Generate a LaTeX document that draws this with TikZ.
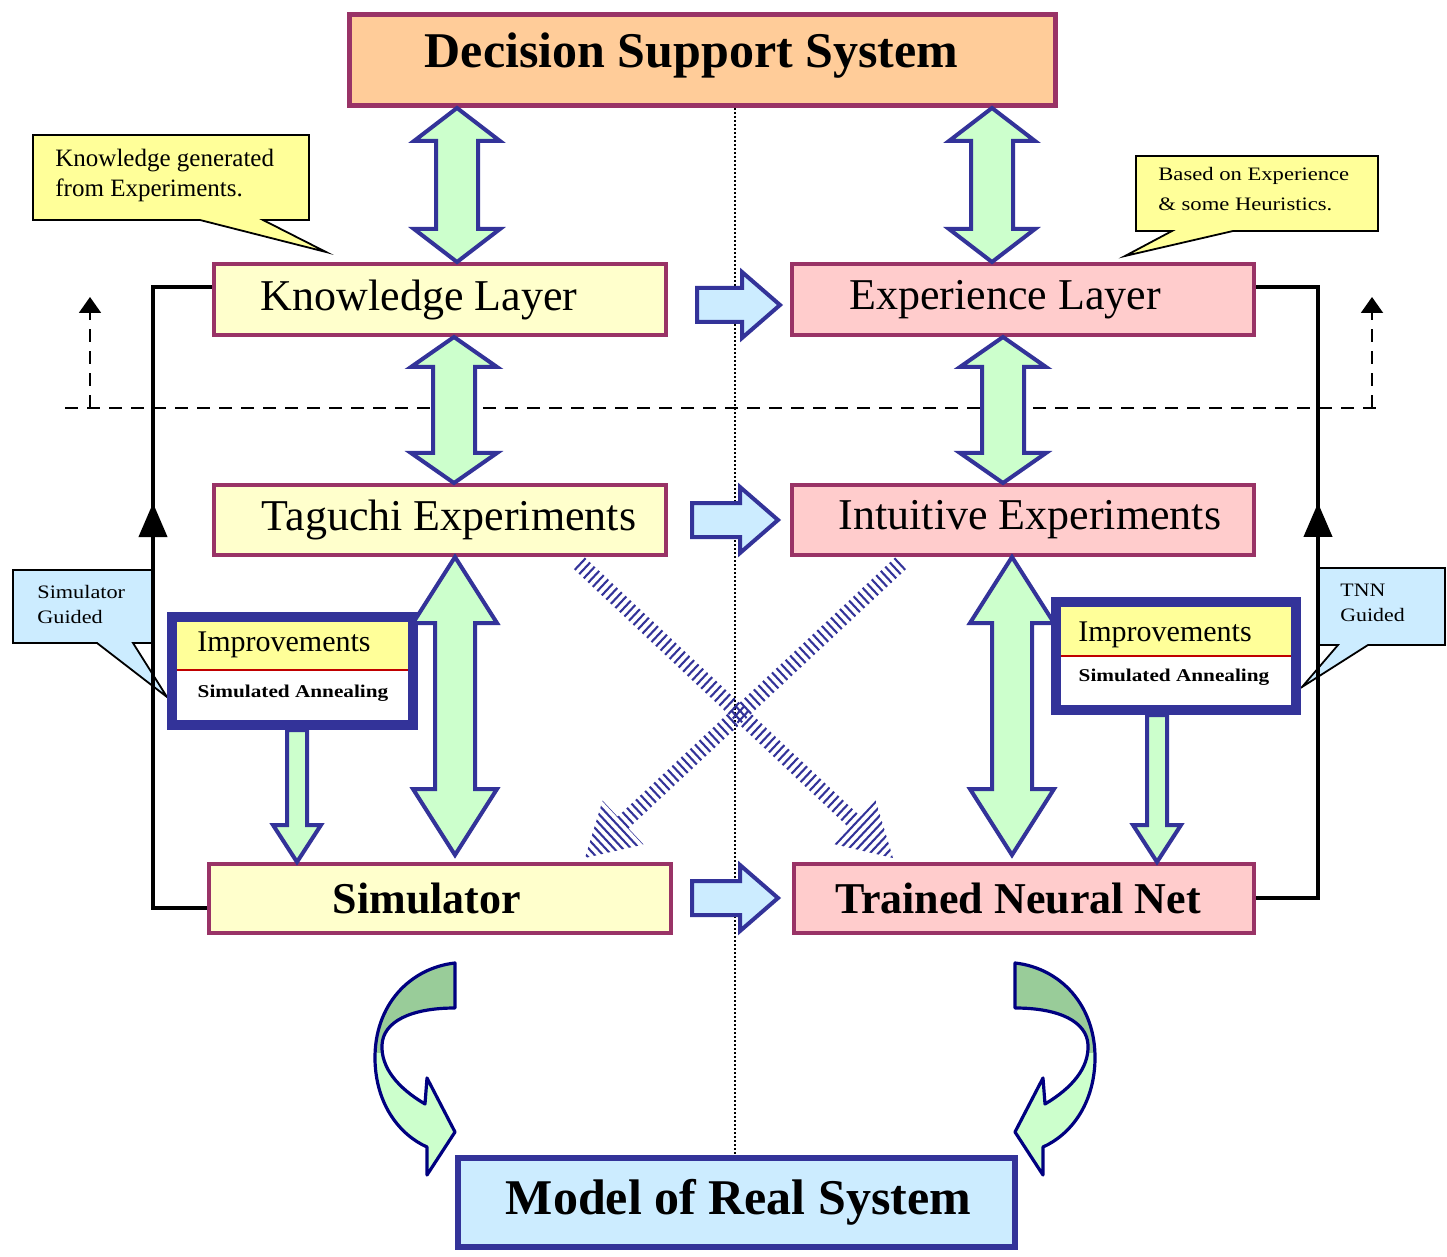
\documentclass[tikz,border=0pt]{standalone}
\usepackage{fontspec}
\setmainfont{Liberation Serif}
\usetikzlibrary{arrows.meta,calc,decorations.markings}

\definecolor{maroon}{HTML}{993366}
\definecolor{peach}{HTML}{FFCC99}
\definecolor{paleyellow}{HTML}{FFFFCC}
\definecolor{palepink}{HTML}{FFCCCC}
\definecolor{noteyellow}{HTML}{FFFF99}
\definecolor{paleblue}{HTML}{CCECFF}
\definecolor{indigo}{HTML}{333399}
\definecolor{mint}{HTML}{CCFFCC}
\definecolor{sage}{HTML}{99CC99}
\definecolor{navyline}{HTML}{000080}
\definecolor{sepred}{HTML}{C00000}

\newcommand\stretchtext[2]{\scalebox{#1}[1]{#2}}

% vertical block arrow with a head at both ends
\newcommand\vdouble[6]{%
  \draw[garrow] let \p1=(#2), \p2=(#3), \p3=(#1,0) in
    ({\x3-#4},{\y1-#6}) -- ({\x3-#5},{\y1-#6}) -- (\x3,\y1) -- ({\x3+#5},{\y1-#6}) -- ({\x3+#4},{\y1-#6})
    -- ({\x3+#4},{\y2+#6}) -- ({\x3+#5},{\y2+#6}) -- (\x3,\y2) -- ({\x3-#5},{\y2+#6}) -- ({\x3-#4},{\y2+#6}) -- cycle;}
% vertical block arrow pointing down
\newcommand\vsingle[6]{%
  \draw[garrow] let \p1=(#2), \p2=(#3), \p3=(#1,0) in
    ({\x3-#4},\y1) -- ({\x3+#4},\y1)
    -- ({\x3+#4},{\y2+#6}) -- ({\x3+#5},{\y2+#6}) -- (\x3,\y2) -- ({\x3-#5},{\y2+#6}) -- ({\x3-#4},{\y2+#6}) -- cycle;}
% horizontal block arrow pointing right
\newcommand\hsingle[6]{%
  \draw[barrow] let \p1=(#2), \p2=(#3), \p3=(0,#1) in
    (\x1,{\y3+#4}) -- ({\x2-#6},{\y3+#4}) -- ({\x2-#6},{\y3+#5}) -- (\x2,\y3)
    -- ({\x2-#6},{\y3-#5}) -- ({\x2-#6},{\y3-#4}) -- (\x1,{\y3-#4}) -- cycle;}
% striped diagonal arrow
\newcommand\hatcharrow[2]{%
  \path let \p1=(#1), \p2=(#2) in \pgfextra{%
    \pgfmathparse{atan2(\y2-\y1,\x2-\x1)}\xdef\hatchangle{\pgfmathresult}%
    \pgfmathparse{veclen(\x2-\x1,\y2-\y1)}\xdef\hatchlen{\pgfmathresult}};
  \begin{scope}[shift={(#1)}, rotate=\hatchangle]
    \clip (0pt,-4pt) -- ({\hatchlen pt-26pt},-4pt) -- ({\hatchlen pt-26pt},-15pt) -- (\hatchlen pt,0pt)
      -- ({\hatchlen pt-26pt},15pt) -- ({\hatchlen pt-26pt},4pt) -- (0pt,4pt) -- cycle;
    \foreach \s in {1.5,4.6,...,\hatchlen}
      \draw[indigo, line width=1.05pt] (\s pt,-16pt) -- (\s pt,16pt);
  \end{scope}}
% curled arrow outline
\newcommand\curlpath{(455,963) .. controls (410,968) and (374,1005) .. (375,1060)
  .. controls (376,1105) and (400,1135) .. (427,1147) -- (427,1175) -- (455,1132) -- (427,1078)
  -- (425,1104) .. controls (398,1088) and (381,1068) .. (382,1045)
  .. controls (383,1022) and (410,1008) .. (455,1008) -- cycle}

\begin{document}
\begin{tikzpicture}[x=0.5pt, y=-0.5pt,
  kbox/.style={draw=maroon, line width=2pt, fill=paleyellow, inner sep=0pt},
  ebox/.style={draw=maroon, line width=2pt, fill=palepink, inner sep=0pt},
  impbox/.style={draw=indigo, line width=5pt, fill=white, inner sep=0pt},
  lbl/.style={font=\fontsize{22}{26}\selectfont},
  blbl/.style={font=\bfseries\fontsize{22}{26}\selectfont},
  biglbl/.style={font=\bfseries\fontsize{25}{30}\selectfont},
  garrow/.style={draw=indigo, fill=mint, line width=2pt, line join=miter},
  barrow/.style={draw=indigo, fill=paleblue, line width=2pt, line join=miter},
  note/.style={draw=black, line width=0.9pt, line join=miter},
  notetext/.style={anchor=north west, inner sep=0pt, align=left},
  fb/.style={line width=2pt, black},
  dline/.style={line width=1pt, dash pattern=on 6.5pt off 4.5pt},
  curl/.style={draw=navyline, line width=1.6pt, line join=round},
]
\useasboundingbox (0,0) rectangle (1447,1257);
\fill[white] (0,0) rectangle (1447,1257);

% centre divider and layer boundary
\draw[line width=1pt, dash pattern=on 1pt off 1pt] (735,108) -- (735,1155);
\draw[dline] (65,408) -- (1383,408);
\draw[dline, -{Triangle[width=11pt,length=8pt]}] (90,408) -- (90,297);
\draw[dline, -{Triangle[width=11pt,length=8pt]}] (1372,408) -- (1372,297);

% main boxes
\node[draw=maroon, line width=2.5pt, fill=peach, inner sep=0pt, minimum width=353pt, minimum height=45.5pt,
      label={[biglbl, xshift=-5.5pt, yshift=2pt]center:Decision Support System}] (dss) at (702.5,60) {};
\node[kbox, minimum width=226pt, minimum height=35.5pt,
      label={[lbl, xshift=-10.5pt]center:Knowledge Layer}] (kl) at (440,299.5) {};
\node[ebox, minimum width=231pt, minimum height=35.5pt,
      label={[lbl, xshift=-9pt]center:Experience Layer}] (el) at (1023,299.5) {};
\node[kbox, minimum width=226pt, minimum height=35pt,
      label={[lbl, xshift=4.5pt]center:Taguchi Experiments}] (tag) at (440,520) {};
\node[ebox, minimum width=231pt, minimum height=35pt,
      label={[lbl, xshift=3.5pt]center:Intuitive Experiments}] (int) at (1023,520) {};
\node[kbox, minimum width=231pt, minimum height=34.5pt,
      label={[blbl, xshift=-6.5pt]center:Simulator}] (sim) at (440,898.5) {};
\node[ebox, minimum width=230pt, minimum height=34.5pt,
      label={[blbl, xshift=-3pt]center:Trained Neural Net}] (tnn) at (1024,898.5) {};
\node[draw=indigo, line width=3pt, fill=paleblue, inner sep=0pt, minimum width=278.5pt, minimum height=44.5pt,
      label={[biglbl, xshift=1pt]center:Model of Real System}] (model) at (736.5,1202.5) {};

% callouts
\draw[note, fill=noteyellow] (33,135) -- (309,135) -- (309,220) -- (263,220) -- (326,252) -- (200,220) -- (33,220) -- cycle;
\node[notetext, font=\fontsize{12.5}{15}\selectfont] (kgnote) at (55,149) {Knowledge generated\\from Experiments.};
\draw[note, fill=noteyellow] (1136,156) -- (1378,156) -- (1378,231) -- (1233,231) -- (1125,256) -- (1172,231) -- (1136,231) -- cycle;
\node[notetext, font=\fontsize{9.5}{15}\selectfont] (benote) at (1158,167)
  {\stretchtext{1.19}{Based on Experience}\\\stretchtext{1.19}{\& some Heuristics.}};
\draw[note, fill=paleblue] (13,570) -- (153,570) -- (153,643) -- (133,643) -- (167,697) -- (97,643) -- (13,643) -- cycle;
\node[notetext, font=\fontsize{9.5}{12.5}\selectfont] (sgnote) at (37,585)
  {\stretchtext{1.17}{Simulator}\\\stretchtext{1.17}{Guided}};
\draw[note, fill=paleblue] (1318,568) -- (1445,568) -- (1445,645) -- (1368,645) -- (1302,687) -- (1338,645) -- (1318,645) -- cycle;
\node[notetext, font=\fontsize{9.5}{12.5}\selectfont] (tgnote) at (1340,584)
  {\stretchtext{1.15}{TNN}\\\stretchtext{1.15}{Guided}};

% feedback loops
\draw[fb, postaction={decorate}, decoration={markings,
      mark=at position 229.5pt with {\arrow{Triangle[width=14pt,length=17pt]}}}]
  ($(sim.west)+(0,9.5)$) -- ++(-54,0) |- ($(kl.west)+(0,-12.5)$);
\draw[fb, postaction={decorate}, decoration={markings,
      mark=at position 228.3pt with {\arrow{Triangle[width=14pt,length=17pt]}}}]
  ($(tnn.east)+(0,-1)$) -- ++(62,0) |- ($(el.east)+(0,-12.5)$);

% improvement boxes
\node[impbox, minimum width=120.5pt, minimum height=54pt] (limp) at (292.5,671) {};
\fill[noteyellow] ($(limp.north west)+(10,10)$) rectangle ($(limp.north east)+(-10,58)$);
\draw[sepred, line width=1pt] ($(limp.north west)+(10,58)$) -- ($(limp.north east)+(-10,58)$);
\node[font=\fontsize{15}{18}\selectfont] (limpt) at (284,645) {Improvements};
\node[font=\bfseries\fontsize{9}{11}\selectfont] (lsa) at (293,693) {\stretchtext{1.18}{Simulated Annealing}};

\node[impbox, minimum width=120pt, minimum height=54pt] (rimp) at (1176,656) {};
\fill[noteyellow] ($(rimp.north west)+(10,10)$) rectangle ($(rimp.north east)+(-10,59)$);
\draw[sepred, line width=1pt] ($(rimp.north west)+(10,59)$) -- ($(rimp.north east)+(-10,59)$);
\node[font=\fontsize{15}{18}\selectfont] (rimpt) at (1165,635) {Improvements};
\node[font=\bfseries\fontsize{9}{11}\selectfont] (rsa) at (1174,677) {\stretchtext{1.18}{Simulated Annealing}};

% two-way links between layers
\vdouble{457}{dss.south}{kl.north}{10.5pt}{21.5pt}{16.5pt}
\vdouble{992}{dss.south}{el.north}{10.5pt}{21.5pt}{16.5pt}
\vdouble{454}{kl.south}{tag.north}{10.5pt}{21.5pt}{15pt}
\vdouble{1003}{el.south}{int.north}{10.5pt}{21.5pt}{15pt}
\vdouble{455}{tag.south}{$(sim.north)+(0,-7)$}{10pt}{21pt}{33pt}
\vdouble{1012}{int.south}{$(tnn.north)+(0,-7)$}{10pt}{21pt}{33pt}

% improvement feeds
\vsingle{297}{limp.south}{sim.north}{5pt}{12pt}{18.5pt}
\vsingle{1157}{rimp.south}{tnn.north}{5pt}{12pt}{18.5pt}

% left-to-right transfers
\hsingle{305}{$(kl.east)+(29,0)$}{$(el.west)+(-10,0)$}{8.5pt}{16.5pt}{19pt}
\hsingle{520}{$(tag.east)+(24,0)$}{$(int.west)+(-12,0)$}{8.5pt}{16.5pt}{19pt}
\hsingle{898}{$(sim.east)+(19,0)$}{$(tnn.west)+(-14,0)$}{8.5pt}{16.5pt}{19pt}

% crossing striped arrows
\hatcharrow{$(tag.south)+(138,5)$}{$(tnn.north)+(-131,-4)$}
\hatcharrow{$(int.south)+(-121,5)$}{$(sim.north)+(145,-4)$}

% curled arrows into the model
\fill[mint] \curlpath;
\begin{scope}
  \clip (300,900) rectangle (520,1052);
  \fill[sage] \curlpath;
\end{scope}
\draw[curl] \curlpath;
\begin{scope}[xshift=735pt, xscale=-1]
  \fill[mint] \curlpath;
  \begin{scope}
    \clip (300,900) rectangle (520,1052);
    \fill[sage] \curlpath;
  \end{scope}
  \draw[curl] \curlpath;
\end{scope}
\end{tikzpicture}
\end{document}
